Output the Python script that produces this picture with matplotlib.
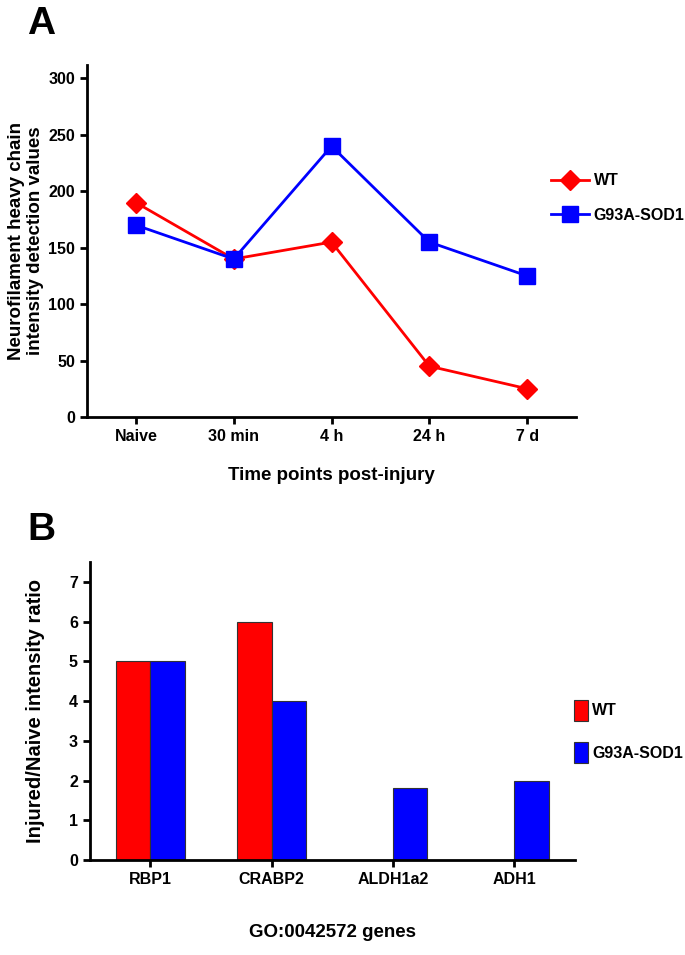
import matplotlib
matplotlib.use('Agg')
import matplotlib.pyplot as plt
import numpy as np

plt.rcParams['font.family'] = ['Liberation Sans', 'DejaVu Sans']
plt.rcParams['font.weight'] = 'bold'

# panel A data
time_points = ['Naive', '30 min', '4 h', '24 h', '7 d']
wt_line = [190, 140, 155, 45, 25]
sod1_line = [170, 140, 240, 155, 125]

# panel B data
genes = ['RBP1', 'CRABP2', 'ALDH1a2', 'ADH1']
wt_ratio = [5.0, 6.0, 0, 0]
sod1_ratio = [5.0, 4.0, 1.8, 2.0]

red = '#ff0000'
blue = '#0000ff'


def style_axis(ax):
    for side in ['top', 'right']:
        ax.spines[side].set_visible(False)
    for side in ['left', 'bottom']:
        ax.spines[side].set_linewidth(2)
    ax.tick_params(direction='out', length=5, width=2, labelsize=11.5)
    for lab in ax.get_xticklabels() + ax.get_yticklabels():
        lab.set_fontweight('bold')


fig = plt.figure(figsize=(6.85, 9.55), dpi=100)

# ---- panel A ----
ax_a = fig.add_axes([0.127, 0.5634, 0.714, 0.3686])
x = np.arange(len(time_points))
ax_a.plot(x, wt_line, color=red, lw=2, marker='D', markersize=10, label='WT')
ax_a.plot(x, sod1_line, color=blue, lw=2, marker='s', markersize=11, label='G93A-SOD1')
ax_a.set_xlim(-0.5, 4.5)
ax_a.set_ylim(0, 312)
ax_a.set_yticks([0, 50, 100, 150, 200, 250, 300])
ax_a.set_xticks(x)
ax_a.set_xticklabels(time_points)
style_axis(ax_a)
ax_a.set_xlabel('Time points post-injury', fontsize=13.5, fontweight='bold', labelpad=17)
ax_a.set_ylabel('Neurofilament heavy chain\nintensity detection values', fontsize=13.5,
                fontweight='bold', labelpad=3)
ax_a.legend(loc='upper left', bbox_to_anchor=(0.935, 0.71), frameon=False,
            prop={'weight': 'bold', 'size': 11.5}, handlelength=2.4, labelspacing=1.2,
            handletextpad=0.3, borderaxespad=0)
fig.text(0.04, 0.975, 'A', fontsize=28, fontweight='bold', va='center')

# ---- panel B ----
ax_b = fig.add_axes([0.131, 0.0995, 0.708, 0.312])
xb = np.arange(len(genes))
w = 0.285
ax_b.bar(xb - w / 2, wt_ratio, w, color=red, edgecolor='#333333', linewidth=0.8, label='WT')
ax_b.bar(xb + w / 2, sod1_ratio, w, color=blue, edgecolor='#333333', linewidth=0.8,
         label='G93A-SOD1')
ax_b.set_xlim(-0.5, 3.5)
ax_b.set_ylim(0, 7.5)
ax_b.set_yticks(range(0, 8))
ax_b.set_xticks(xb)
ax_b.set_xticklabels(genes)
style_axis(ax_b)
ax_b.set_xlabel('GO:0042572 genes', fontsize=13.5, fontweight='bold', labelpad=27)
ax_b.set_ylabel('Injured/Naive intensity ratio', fontsize=14.5, fontweight='bold')
ax_b.yaxis.set_label_coords(-0.093, 0.5)
ax_b.legend(loc='upper left', bbox_to_anchor=(0.985, 0.56), frameon=False,
            prop={'weight': 'bold', 'size': 11.5}, handlelength=0.9, handleheight=1.7,
            labelspacing=1.3, handletextpad=0.25, borderaxespad=0)
fig.text(0.04, 0.445, 'B', fontsize=28, fontweight='bold', va='center')

fig.savefig('out.png', dpi=100)
